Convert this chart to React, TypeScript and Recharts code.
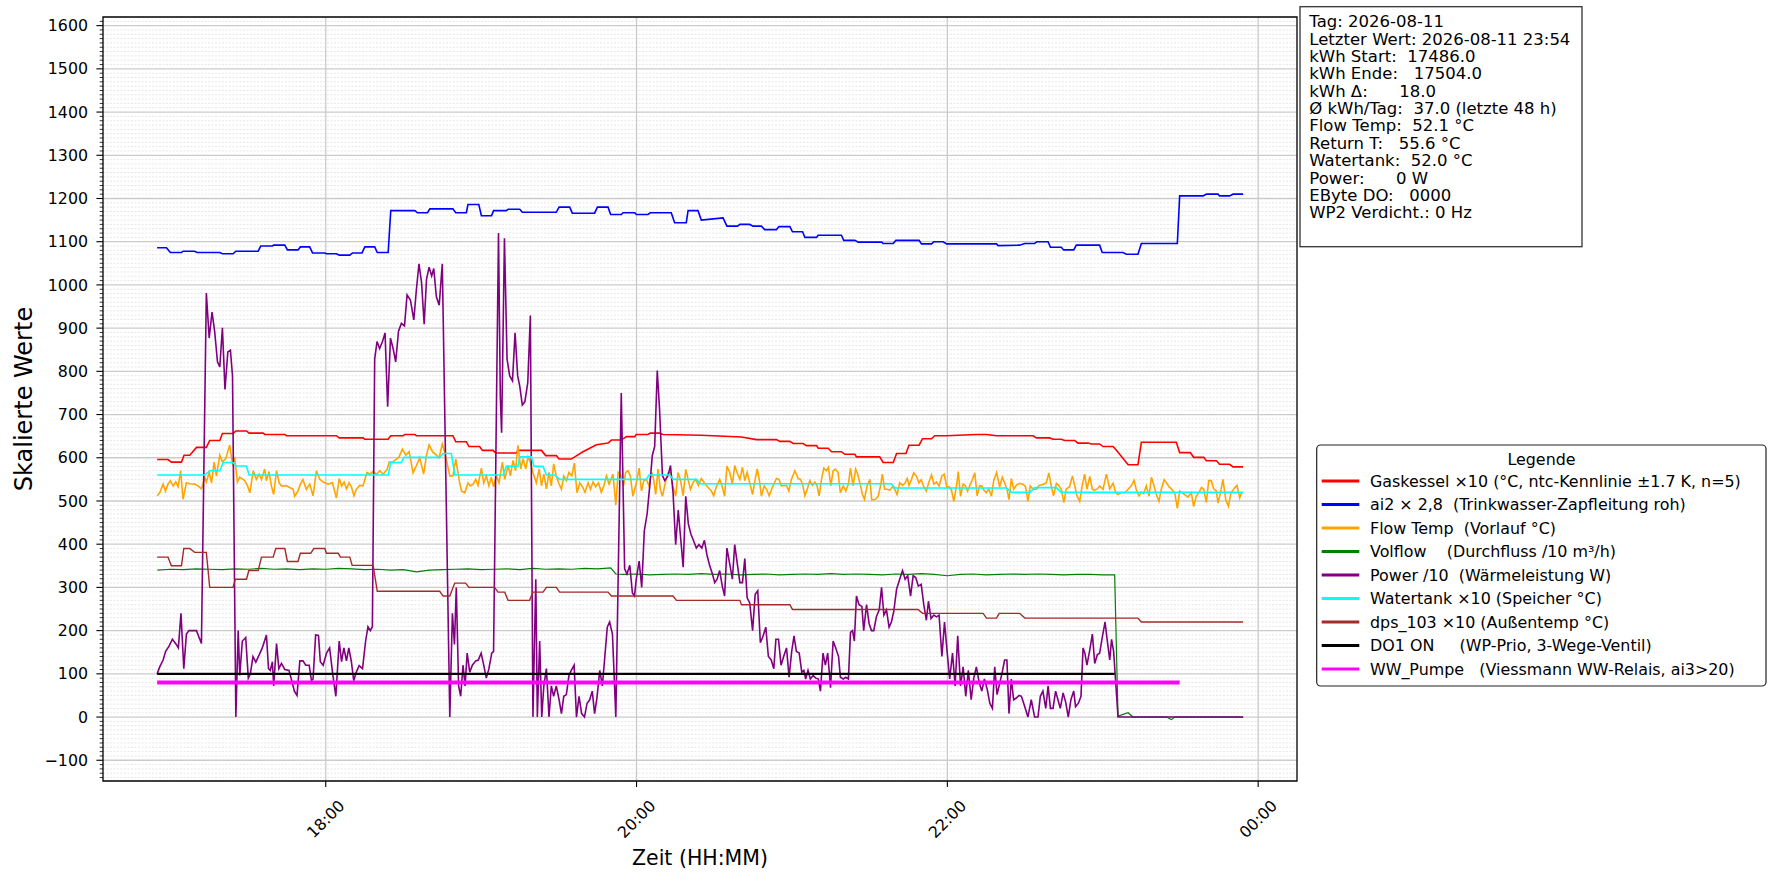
import React from "react";
import { LineChart, Line, XAxis, YAxis, CartesianGrid, ReferenceArea } from "recharts";

// [minutes since 00:00 on 2026-08-11, scaled value]
type Pt = [number, number];

const FONT = "DejaVu Sans, Verdana, sans-serif";

const xDomain: [number, number] = [994, 1455];
const yDomain: [number, number] = [-148, 1620];
const xTicks = [1080, 1200, 1320, 1440];
const xTickLabels = ["18:00", "20:00", "22:00", "00:00"];
const yTicks = [-100, 0, 100, 200, 300, 400, 500, 600, 700, 800, 900, 1000, 1100, 1200, 1300, 1400, 1500, 1600];

const yAll: number[] = [];
for (let v = -140; v <= 1610; v += 10) yAll.push(v);
const yMinor = yAll.filter((v) => v % 100 !== 0);

const gaskessel: Pt[] = [
  [1014.9, 596], [1019.1, 596], [1020.4, 590], [1024.3, 590], [1025.3, 606], [1027.5, 606], [1030.1, 624],
  [1033.9, 624], [1035.2, 640], [1039.1, 640], [1040.1, 656], [1044.2, 656], [1045.3, 662], [1049.4, 662],
  [1050.4, 657], [1055.8, 657], [1056.5, 654], [1064.2, 654], [1064.8, 651], [1084.1, 651], [1085.2, 646],
  [1094.4, 646], [1095.1, 643], [1104.1, 643], [1105.1, 651], [1109.9, 651], [1110.5, 654], [1114.4, 654],
  [1115.0, 651], [1129.1, 651], [1130.2, 637], [1134.3, 637], [1135.3, 626], [1139.4, 626], [1140.5, 617],
  [1144.6, 617], [1145.6, 611], [1153.6, 611], [1154.2, 617], [1163.3, 617], [1164.9, 605], [1169.0, 605],
  [1170.1, 597], [1174.8, 597], [1179.3, 614], [1184.5, 630], [1189.0, 634], [1190.3, 641], [1194.1, 641],
  [1196.1, 649], [1199.3, 649], [1199.9, 654], [1204.4, 654], [1205.3, 657], [1208.9, 657], [1210.2, 654],
  [1225.0, 652], [1240.5, 648], [1246.3, 642], [1254.0, 642], [1255.3, 638], [1259.2, 638], [1260.5, 633],
  [1264.3, 633], [1265.6, 628], [1269.5, 628], [1270.1, 622], [1274.0, 622], [1275.3, 614], [1279.1, 614],
  [1280.4, 608], [1284.3, 608], [1284.9, 602], [1293.9, 602], [1295.2, 589], [1299.1, 589], [1300.4, 610],
  [1304.0, 610], [1305.2, 629], [1309.1, 629], [1310.4, 644], [1313.9, 644], [1315.1, 651], [1319.7, 651],
  [1331.2, 654], [1335.1, 654], [1339.0, 651], [1353.1, 651], [1354.4, 646], [1359.5, 646], [1360.8, 643],
  [1364.0, 643], [1365.3, 640], [1369.2, 640], [1370.4, 634], [1374.3, 634], [1375.6, 632], [1378.8, 632],
  [1380.1, 626], [1384.0, 626], [1385.2, 618], [1389.8, 584], [1393.6, 584], [1394.9, 636], [1408.4, 636],
  [1409.7, 612], [1413.8, 612], [1415.1, 601], [1419.0, 601], [1420.0, 593], [1423.9, 593], [1425.1, 585],
  [1429.0, 585], [1430.3, 579], [1434.2, 579],
];

const ai2: Pt[] = [
  [1014.9, 1086], [1018.5, 1086], [1020.0, 1075], [1024.3, 1075], [1024.9, 1078], [1029.4, 1078], [1030.3, 1075],
  [1039.1, 1075], [1040.1, 1072], [1044.2, 1072], [1045.3, 1078], [1053.9, 1078], [1054.9, 1090], [1059.4, 1090],
  [1059.9, 1092], [1064.2, 1092], [1065.2, 1081], [1069.3, 1081], [1070.2, 1088], [1073.8, 1088], [1074.9, 1074],
  [1079.6, 1074], [1080.3, 1072], [1084.1, 1072], [1085.2, 1069], [1089.3, 1069], [1090.3, 1074], [1094.0, 1074],
  [1095.1, 1088], [1098.9, 1088], [1099.9, 1075], [1104.1, 1075], [1105.1, 1172], [1114.4, 1172], [1115.4, 1167],
  [1119.3, 1167], [1120.2, 1176], [1129.1, 1176], [1130.2, 1167], [1134.3, 1167], [1134.9, 1186], [1139.1, 1186],
  [1140.1, 1160], [1144.0, 1160], [1144.8, 1172], [1149.7, 1172], [1150.4, 1175], [1154.9, 1175], [1155.9, 1168],
  [1169.0, 1168], [1170.1, 1180], [1174.2, 1180], [1175.2, 1166], [1183.8, 1166], [1184.9, 1180], [1189.0, 1180],
  [1190.0, 1163], [1194.1, 1163], [1194.8, 1167], [1199.3, 1167], [1199.9, 1163], [1204.4, 1163], [1205.3, 1167],
  [1213.4, 1167], [1214.7, 1144], [1219.2, 1144], [1219.9, 1172], [1223.7, 1172], [1225.0, 1150], [1233.4, 1155],
  [1234.9, 1136], [1239.0, 1136], [1239.9, 1140], [1243.7, 1140], [1245.0, 1136], [1248.2, 1136], [1249.5, 1128],
  [1254.0, 1128], [1255.0, 1135], [1259.2, 1135], [1260.2, 1123], [1264.1, 1123], [1265.0, 1110], [1269.5, 1110],
  [1270.1, 1115], [1279.1, 1115], [1280.0, 1103], [1284.3, 1103], [1285.6, 1099], [1294.6, 1099], [1295.2, 1096],
  [1299.1, 1096], [1300.1, 1103], [1309.1, 1103], [1310.0, 1095], [1313.9, 1095], [1314.8, 1100], [1318.4, 1100],
  [1319.7, 1095], [1339.0, 1095], [1339.6, 1091], [1347.9, 1092], [1349.9, 1096], [1353.7, 1096], [1354.6, 1100],
  [1358.9, 1100], [1359.8, 1087], [1364.0, 1087], [1364.9, 1081], [1368.8, 1081], [1369.8, 1092], [1378.8, 1092],
  [1379.8, 1075], [1387.8, 1075], [1389.1, 1071], [1393.6, 1071], [1394.9, 1096], [1408.8, 1096], [1409.7, 1206],
  [1418.7, 1206], [1420.0, 1210], [1424.5, 1210], [1425.1, 1206], [1429.0, 1206], [1430.3, 1210], [1434.2, 1210],
];

const flowTemp: Pt[] = [
  [1014.9, 512], [1015.9, 519], [1017.2, 539], [1018.1, 523], [1019.1, 539], [1020.0, 547], [1021.1, 535],
  [1022.1, 544], [1023.0, 533], [1024.0, 570], [1024.9, 504], [1026.2, 542], [1027.5, 540], [1029.4, 539],
  [1030.7, 535], [1032.0, 528], [1033.3, 555], [1033.9, 544], [1035.0, 566], [1035.9, 542], [1036.9, 590],
  [1037.8, 558], [1039.1, 606], [1040.1, 590], [1041.4, 598], [1042.9, 629], [1044.0, 586], [1044.9, 598],
  [1045.9, 544], [1046.8, 555], [1048.7, 547], [1049.8, 535], [1050.7, 519], [1052.0, 570], [1053.2, 550],
  [1054.3, 562], [1055.2, 550], [1056.4, 574], [1057.1, 547], [1058.1, 568], [1059.0, 535], [1059.9, 515],
  [1061.0, 570], [1062.0, 542], [1062.9, 535], [1064.8, 535], [1066.1, 531], [1067.4, 527], [1068.0, 511],
  [1069.3, 523], [1070.2, 539], [1071.2, 550], [1072.5, 527], [1073.8, 539], [1075.1, 512], [1076.4, 570],
  [1077.7, 550], [1079.0, 544], [1080.9, 539], [1082.6, 542], [1084.1, 507], [1085.2, 552], [1086.1, 535],
  [1087.1, 544], [1088.0, 528], [1089.0, 542], [1089.9, 533], [1090.9, 512], [1091.8, 527], [1093.1, 536],
  [1094.4, 535], [1095.9, 566], [1097.0, 562], [1098.3, 568], [1099.6, 562], [1100.9, 570], [1102.1, 562],
  [1103.7, 573], [1104.5, 590], [1105.7, 590], [1107.3, 597], [1108.3, 602], [1109.6, 620], [1110.9, 606],
  [1112.2, 614], [1113.7, 565], [1115.0, 582], [1116.3, 600], [1117.8, 562], [1118.9, 606], [1119.9, 630],
  [1121.2, 614], [1122.7, 606], [1123.8, 600], [1125.0, 632], [1125.9, 614], [1127.9, 558], [1129.1, 558],
  [1130.2, 597], [1131.7, 542], [1132.4, 523], [1133.7, 519], [1134.9, 542], [1135.8, 535], [1136.9, 539],
  [1137.9, 550], [1138.8, 536], [1140.1, 576], [1141.0, 542], [1142.0, 558], [1143.0, 535], [1143.9, 555],
  [1144.8, 533], [1145.9, 558], [1146.9, 542], [1148.2, 590], [1149.1, 550], [1150.4, 582], [1151.3, 558],
  [1152.3, 594], [1153.3, 570], [1154.2, 629], [1155.3, 574], [1156.2, 598], [1157.2, 574], [1158.1, 602],
  [1159.0, 590], [1160.0, 566], [1161.3, 542], [1162.4, 574], [1163.3, 535], [1164.2, 562], [1165.2, 528],
  [1166.2, 566], [1167.1, 535], [1168.0, 586], [1169.0, 558], [1169.9, 542], [1171.0, 527], [1171.9, 558],
  [1172.9, 547], [1173.9, 566], [1175.0, 558], [1176.0, 588], [1177.0, 519], [1178.1, 542], [1179.1, 533],
  [1180.1, 520], [1181.3, 542], [1182.2, 527], [1183.2, 544], [1184.2, 533], [1185.3, 542], [1186.4, 520],
  [1187.4, 536], [1188.4, 558], [1189.4, 539], [1190.9, 562], [1192.0, 491], [1192.9, 566], [1194.1, 558],
  [1195.0, 536], [1195.8, 566], [1196.7, 570], [1197.6, 558], [1198.6, 511], [1199.9, 542], [1201.0, 576],
  [1201.9, 523], [1202.8, 547], [1203.8, 550], [1204.8, 535], [1205.9, 566], [1206.6, 550], [1207.4, 515],
  [1208.3, 574], [1209.2, 527], [1210.0, 511], [1211.0, 539], [1212.2, 566], [1213.1, 566], [1214.1, 533],
  [1215.1, 511], [1216.0, 566], [1216.9, 550], [1218.0, 512], [1219.0, 573], [1219.9, 550], [1220.8, 527],
  [1221.8, 542], [1222.8, 550], [1223.9, 536], [1225.0, 552], [1226.3, 541], [1227.6, 531], [1228.9, 523],
  [1229.8, 512], [1230.8, 533], [1232.1, 550], [1233.1, 533], [1234.0, 511], [1234.9, 581], [1236.0, 566],
  [1237.0, 539], [1237.9, 582], [1238.8, 566], [1239.9, 550], [1240.9, 578], [1241.8, 547], [1242.7, 566],
  [1243.7, 542], [1244.8, 515], [1245.7, 547], [1246.6, 574], [1247.6, 542], [1248.2, 511], [1249.3, 535],
  [1250.2, 527], [1251.2, 512], [1252.1, 527], [1253.0, 539], [1254.0, 552], [1255.0, 550], [1255.9, 535],
  [1257.0, 536], [1257.9, 536], [1258.8, 523], [1259.8, 550], [1261.1, 570], [1262.4, 552], [1263.3, 550],
  [1264.1, 539], [1265.0, 512], [1265.9, 527], [1266.9, 547], [1267.9, 536], [1268.8, 544], [1269.7, 535],
  [1270.5, 512], [1271.4, 550], [1272.3, 576], [1273.3, 570], [1274.1, 578], [1275.0, 535], [1275.9, 570],
  [1276.8, 574], [1277.8, 566], [1278.7, 519], [1279.8, 535], [1280.8, 523], [1281.8, 539], [1282.6, 576],
  [1283.6, 535], [1284.6, 574], [1285.4, 562], [1286.5, 535], [1287.2, 515], [1288.0, 504], [1289.0, 535],
  [1290.1, 550], [1290.8, 503], [1292.0, 503], [1293.3, 511], [1294.2, 535], [1294.9, 562], [1295.8, 527],
  [1296.7, 527], [1297.8, 525], [1298.8, 533], [1299.7, 527], [1300.6, 515], [1301.6, 542], [1302.7, 536],
  [1303.6, 541], [1304.5, 552], [1305.2, 536], [1306.1, 549], [1307.0, 565], [1308.1, 557], [1309.0, 542],
  [1309.9, 549], [1310.9, 533], [1311.9, 523], [1312.8, 542], [1313.9, 560], [1314.8, 539], [1315.8, 544],
  [1316.8, 535], [1317.9, 558], [1318.8, 562], [1319.8, 531], [1320.7, 533], [1321.6, 525], [1322.5, 499],
  [1323.5, 533], [1324.2, 568], [1325.1, 511], [1326.1, 539], [1326.9, 536], [1327.8, 523], [1328.7, 536],
  [1329.7, 550], [1330.6, 565], [1331.5, 512], [1332.5, 535], [1333.3, 535], [1334.1, 525], [1335.1, 519],
  [1336.0, 528], [1337.0, 511], [1337.9, 547], [1339.0, 566], [1340.2, 533], [1341.2, 555], [1342.1, 542],
  [1343.0, 528], [1343.8, 503], [1344.7, 552], [1345.6, 527], [1346.6, 536], [1347.9, 541], [1349.2, 539],
  [1350.2, 533], [1351.1, 499], [1352.0, 535], [1353.1, 527], [1354.4, 527], [1355.4, 536], [1356.9, 538],
  [1358.2, 542], [1359.2, 565], [1360.1, 535], [1361.0, 512], [1362.1, 541], [1363.1, 535], [1364.0, 527],
  [1365.0, 496], [1365.9, 528], [1367.2, 533], [1368.3, 558], [1369.2, 535], [1370.1, 511], [1371.1, 499],
  [1372.0, 533], [1373.0, 562], [1373.9, 527], [1375.0, 557], [1376.0, 527], [1376.9, 525], [1377.9, 528],
  [1378.8, 535], [1380.1, 527], [1381.4, 562], [1382.7, 528], [1384.0, 541], [1385.0, 519], [1385.9, 515],
  [1387.2, 519], [1388.5, 519], [1389.8, 527], [1391.0, 535], [1392.1, 548], [1393.0, 525], [1394.0, 512],
  [1394.9, 520], [1395.8, 517], [1396.8, 535], [1397.9, 511], [1398.8, 555], [1399.8, 535], [1400.7, 515],
  [1401.7, 499], [1402.6, 527], [1403.7, 549], [1404.6, 542], [1405.6, 533], [1406.5, 528], [1407.8, 519],
  [1408.8, 483], [1409.7, 523], [1410.7, 519], [1411.6, 515], [1412.9, 509], [1414.2, 519], [1415.1, 487],
  [1416.1, 511], [1417.2, 520], [1418.1, 531], [1419.0, 527], [1420.0, 496], [1420.9, 547], [1421.9, 547],
  [1422.8, 528], [1423.9, 523], [1424.5, 495], [1425.4, 517], [1426.4, 550], [1427.5, 503], [1428.5, 488],
  [1429.5, 519], [1431.0, 531], [1431.8, 536], [1432.9, 507], [1433.6, 519],
];

const volflow: Pt[] = [
  [1015, 340], [1020, 342], [1025, 341], [1030, 343], [1035, 342], [1040, 341], [1045, 343], [1050, 342],
  [1055, 344], [1060, 342], [1065, 343], [1070, 341], [1075, 343], [1080, 342], [1085, 344], [1090, 343],
  [1095, 341], [1100, 342], [1105, 340], [1110, 341], [1115, 336], [1120, 340], [1125, 341], [1130, 342],
  [1135, 343], [1140, 341], [1145, 342], [1150, 343], [1155, 341], [1160, 344], [1165, 342], [1170, 343],
  [1175, 342], [1180, 344], [1185, 343], [1190, 345], [1192, 331], [1195, 330], [1200, 331], [1205, 329],
  [1210, 330], [1215, 331], [1220, 330], [1225, 332], [1230, 330], [1235, 331], [1240, 329], [1245, 330],
  [1250, 331], [1255, 329], [1260, 330], [1265, 331], [1270, 330], [1275, 332], [1280, 330], [1285, 331],
  [1290, 330], [1295, 329], [1300, 331], [1305, 330], [1310, 332], [1315, 330], [1320, 327], [1325, 330],
  [1330, 331], [1335, 329], [1340, 330], [1345, 331], [1350, 330], [1355, 331], [1360, 330], [1365, 329],
  [1370, 330], [1375, 330], [1380, 329], [1384.6, 329], [1385.9, 2], [1389.8, 10], [1391.7, 0], [1404.6, 0],
  [1406.5, -6], [1407.8, 0], [1434.2, 0],
];

const power: Pt[] = [
  [1014.9, 100], [1015.9, 116], [1017.2, 132], [1018.2, 152], [1019.5, 164], [1020.8, 180], [1022.3, 168],
  [1023.1, 160], [1024.1, 240], [1025.2, 112], [1026.2, 192], [1027.2, 200], [1030.1, 200], [1031.1, 184],
  [1032.0, 170], [1033.9, 981], [1035.0, 877], [1036.1, 937], [1037.1, 893], [1038.2, 822], [1039.1, 810],
  [1040.1, 901], [1041.1, 758], [1042.2, 845], [1043.2, 849], [1044.0, 790], [1045.3, 0], [1046.2, 200],
  [1046.8, 96], [1047.8, 176], [1049.1, 184], [1050.1, 90], [1050.9, 100], [1051.9, 140], [1053.0, 127],
  [1054.3, 144], [1055.5, 160], [1057.1, 190], [1057.9, 112], [1058.6, 108], [1059.4, 128], [1059.9, 72],
  [1061.0, 170], [1061.9, 112], [1062.9, 124], [1064.2, 110], [1065.8, 108], [1066.7, 88], [1067.9, 60],
  [1068.9, 50], [1070.0, 130], [1071.2, 130], [1072.3, 120], [1073.6, 120], [1074.5, 84], [1075.1, 88],
  [1076.1, 190], [1077.2, 189], [1077.9, 128], [1079.0, 120], [1080.3, 148], [1081.5, 160], [1082.6, 104],
  [1083.9, 48], [1085.2, 176], [1086.1, 128], [1087.0, 160], [1088.0, 130], [1088.9, 160], [1089.9, 128],
  [1090.8, 84], [1091.8, 104], [1092.9, 119], [1094.2, 112], [1095.4, 176], [1096.3, 209], [1097.2, 200],
  [1098.0, 209], [1098.9, 829], [1099.8, 869], [1100.8, 853], [1101.9, 869], [1102.9, 889], [1103.9, 718],
  [1105.0, 877], [1106.0, 853], [1107.0, 822], [1108.1, 893], [1109.2, 911], [1110.4, 905], [1111.4, 977],
  [1112.7, 965], [1114.0, 919], [1115.0, 989], [1116.0, 1049], [1117.0, 1005], [1118.0, 909], [1118.9, 1013],
  [1119.9, 1041], [1120.9, 1021], [1121.7, 1038], [1122.7, 973], [1123.8, 953], [1125.0, 1049], [1127.9, 0],
  [1128.9, 240], [1129.7, 168], [1130.4, 300], [1131.3, 72], [1132.1, 48], [1133.0, 120], [1133.8, 72],
  [1134.6, 148], [1135.6, 104], [1136.6, 120], [1137.9, 130], [1138.9, 132], [1140.0, 148], [1141.0, 120],
  [1142.0, 90], [1143.0, 112], [1144.1, 148], [1144.8, 152], [1146.7, 1120], [1147.4, 742], [1147.9, 658],
  [1149.0, 1108], [1150.0, 829], [1151.0, 790], [1152.1, 778], [1153.1, 889], [1154.1, 790], [1154.9, 766],
  [1155.9, 722], [1156.9, 730], [1158.0, 774], [1159.0, 929], [1160.0, 0], [1161.1, 319], [1161.7, 0],
  [1162.6, 176], [1163.4, 0], [1164.2, 72], [1165.2, 112], [1166.2, 0], [1167.1, 72], [1168.0, 48],
  [1169.0, 72], [1170.1, 40], [1171.0, 8], [1171.9, 48], [1172.9, 52], [1173.9, 96], [1174.8, 108],
  [1175.9, 120], [1176.8, 0], [1177.8, 48], [1178.8, 8], [1179.9, 0], [1180.9, 32], [1181.9, 40],
  [1182.9, 60], [1183.8, 8], [1184.7, 44], [1185.8, 108], [1186.8, 72], [1187.7, 136], [1188.7, 208],
  [1189.6, 220], [1190.7, 192], [1192.0, 0], [1194.1, 750], [1195.4, 343], [1196.3, 331], [1197.4, 351],
  [1198.4, 287], [1199.2, 280], [1199.9, 319], [1201.0, 361], [1202.0, 300], [1203.0, 431], [1204.1, 471],
  [1205.1, 535], [1206.1, 606], [1207.0, 626], [1208.0, 802], [1208.9, 710], [1210.0, 559], [1210.9, 547],
  [1212.2, 559], [1213.1, 582], [1214.1, 519], [1215.1, 399], [1216.1, 479], [1216.9, 423], [1218.0, 347],
  [1219.0, 511], [1220.0, 447], [1221.0, 423], [1222.1, 407], [1223.1, 391], [1224.1, 399], [1225.2, 391],
  [1226.2, 409], [1227.2, 375], [1228.2, 351], [1229.3, 331], [1230.2, 311], [1231.1, 319], [1232.1, 339],
  [1233.1, 303], [1234.0, 280], [1234.9, 391], [1237.0, 319], [1237.9, 399], [1239.9, 311], [1240.9, 311],
  [1241.8, 367], [1242.7, 276], [1243.7, 264], [1244.8, 200], [1245.8, 284], [1246.8, 292], [1247.8, 172],
  [1248.9, 188], [1249.9, 208], [1250.9, 140], [1252.0, 132], [1253.0, 112], [1253.8, 180], [1254.8, 180],
  [1255.8, 120], [1256.8, 140], [1257.9, 160], [1258.9, 92], [1259.9, 152], [1260.8, 188], [1261.7, 152],
  [1262.8, 148], [1263.8, 104], [1264.6, 108], [1265.3, 88], [1266.2, 108], [1267.1, 88], [1268.2, 96],
  [1269.2, 90], [1270.2, 88], [1271.0, 60], [1272.0, 148], [1272.9, 120], [1273.8, 148], [1274.9, 68],
  [1275.9, 176], [1276.9, 160], [1278.0, 140], [1278.7, 92], [1279.8, 88], [1280.8, 92], [1281.8, 88],
  [1282.6, 196], [1283.4, 200], [1284.1, 176], [1284.9, 280], [1285.9, 260], [1287.0, 256], [1287.7, 200],
  [1288.8, 260], [1289.8, 216], [1290.7, 200], [1291.6, 200], [1292.6, 232], [1293.7, 248], [1294.6, 300],
  [1295.5, 236], [1296.5, 248], [1297.5, 208], [1298.4, 220], [1299.3, 244], [1300.4, 296], [1301.6, 319],
  [1302.7, 339], [1303.7, 319], [1304.7, 327], [1305.8, 280], [1306.8, 327], [1307.8, 323], [1308.8, 303],
  [1309.9, 307], [1310.9, 260], [1311.9, 224], [1312.7, 268], [1313.7, 228], [1314.8, 236], [1315.8, 232],
  [1316.8, 236], [1317.9, 140], [1318.9, 220], [1319.9, 152], [1320.9, 88], [1322.0, 148], [1323.0, 72],
  [1324.0, 188], [1325.1, 72], [1326.1, 116], [1327.1, 48], [1328.1, 108], [1329.2, 40], [1330.2, 90],
  [1331.2, 116], [1332.3, 80], [1333.3, 60], [1334.3, 88], [1335.4, 64], [1336.4, 32], [1337.4, 20],
  [1338.3, 116], [1339.2, 52], [1341.2, 104], [1342.1, 132], [1343.0, 132], [1343.8, 8], [1344.7, 88],
  [1345.6, 40], [1346.6, 44], [1347.7, 50], [1348.6, 48], [1349.9, 24], [1351.1, 0], [1352.4, 40],
  [1353.7, 0], [1355.0, 0], [1355.9, 48], [1356.9, 60], [1358.0, 20], [1358.9, 72], [1359.8, 20],
  [1360.8, 20], [1361.8, 60], [1362.7, 40], [1363.6, 20], [1364.7, 56], [1365.7, 34], [1366.7, 0],
  [1367.7, 40], [1368.8, 60], [1369.5, 24], [1370.6, 32], [1371.6, 48], [1372.4, 160], [1373.1, 148],
  [1373.9, 120], [1374.9, 152], [1376.0, 192], [1376.9, 124], [1377.9, 144], [1378.8, 148], [1379.8, 184],
  [1380.9, 220], [1381.6, 184], [1382.7, 132], [1383.4, 180], [1384.2, 152], [1385.9, 0], [1434.2, 0],
];

const watertank: Pt[] = [
  [1014.9, 560], [1033.3, 560], [1035.2, 570], [1039.1, 570], [1040.4, 589], [1044.2, 589], [1045.3, 581],
  [1049.4, 581], [1050.4, 560], [1104.1, 560], [1105.1, 589], [1109.2, 589], [1110.2, 601], [1124.0, 601],
  [1125.3, 610], [1128.5, 610], [1129.8, 560], [1148.5, 560], [1149.7, 580], [1154.2, 580], [1154.9, 602],
  [1159.4, 602], [1160.4, 580], [1163.9, 580], [1165.2, 560], [1168.4, 560], [1170.3, 550], [1203.8, 550],
  [1204.8, 560], [1212.8, 560], [1214.1, 550], [1223.1, 550], [1224.6, 540], [1298.4, 540], [1299.7, 530],
  [1342.8, 530], [1344.8, 520], [1351.8, 520], [1353.7, 531], [1362.1, 531], [1364.0, 520], [1434.2, 520],
];

const dps103: Pt[] = [
  [1014.9, 370], [1019.1, 370], [1020.4, 350], [1024.3, 350], [1025.2, 390], [1027.5, 390], [1029.4, 381],
  [1033.9, 381], [1035.2, 300], [1044.2, 300], [1045.1, 319], [1049.4, 319], [1050.3, 339], [1053.9, 339],
  [1055.2, 370], [1059.7, 370], [1060.7, 390], [1064.2, 390], [1065.2, 360], [1069.3, 360], [1070.2, 379],
  [1074.2, 379], [1075.4, 390], [1079.6, 390], [1080.3, 379], [1084.8, 379], [1085.7, 370], [1089.3, 370],
  [1090.2, 351], [1098.3, 351], [1099.9, 291], [1124.0, 291], [1125.3, 280], [1127.9, 280], [1129.8, 310],
  [1134.0, 310], [1135.3, 300], [1145.2, 300], [1146.5, 289], [1149.1, 289], [1150.4, 270], [1158.7, 270],
  [1160.0, 289], [1163.9, 289], [1165.2, 300], [1169.0, 300], [1170.3, 289], [1189.0, 289], [1190.3, 280],
  [1214.1, 280], [1215.4, 270], [1239.9, 270], [1240.5, 260], [1259.2, 260], [1260.2, 249], [1308.7, 249],
  [1310.4, 240], [1333.8, 240], [1335.1, 229], [1339.0, 229], [1340.0, 240], [1347.9, 240], [1349.9, 229],
  [1393.6, 229], [1394.9, 220], [1434.2, 220],
];

const do1On: Pt[] = [[1014.9, 100], [1384.6, 100]];
const wwPumpe: Pt[] = [[1014.9, 80], [1409.7, 80]];

const infoLines = [
  "Tag: 2026-08-11",
  "Letzter Wert: 2026-08-11 23:54",
  "kWh Start:  17486.0",
  "kWh Ende:   17504.0",
  "kWh Δ:      18.0",
  "Ø kWh/Tag:  37.0 (letzte 48 h)",
  "Flow Temp:  52.1 °C",
  "Return T:   55.6 °C",
  "Watertank:  52.0 °C",
  "Power:      0 W",
  "EByte DO:   0000",
  "WP2 Verdicht.: 0 Hz",
];

const series = [
  { name: "Gaskessel ×10 (°C, ntc-Kennlinie ±1.7 K, n=5)", color: "#ff0000", width: 1.6, points: gaskessel },
  { name: "ai2 × 2,8  (Trinkwasser-Zapfleitung roh)", color: "#0000ff", width: 1.6, points: ai2 },
  { name: "Flow Temp  (Vorlauf °C)", color: "#ffa500", width: 1.6, points: flowTemp },
  { name: "Volflow    (Durchfluss /10 m³/h)", color: "#008000", width: 1.2, points: volflow },
  { name: "Power /10  (Wärmeleistung W)", color: "#800080", width: 1.6, points: power },
  { name: "Watertank ×10 (Speicher °C)", color: "#00ffff", width: 1.6, points: watertank },
  { name: "dps_103 ×10 (Außentemp °C)", color: "#a52a2a", width: 1.4, points: dps103 },
  { name: "DO1 ON     (WP-Prio, 3-Wege-Ventil)", color: "#000000", width: 2.4, points: do1On },
  { name: "WW_Pumpe   (Viessmann WW-Relais, ai3>20)", color: "#ff00ff", width: 4, points: wwPumpe },
];

const W = 1781;
const H = 884;
const PLOT_LEFT = 103;
const PLOT_BOTTOM = 781;

const fmtY = (v: number) => (v < 0 ? "\u2212" + Math.abs(v) : String(v));

function YTick(props: any) {
  const { y, payload } = props;
  const major = payload.value % 100 === 0;
  return (
    <g>
      <line
        x1={PLOT_LEFT - (major ? 6.6 : 3.3)}
        x2={PLOT_LEFT}
        y1={y}
        y2={y}
        stroke="#000"
        strokeWidth={major ? 1.1 : 0.8}
      />
      {major && (
        <text x={PLOT_LEFT - 15} y={y} dy="0.355em" textAnchor="end" fontFamily={FONT} fontSize={15.8} fill="#000">
          {fmtY(payload.value)}
        </text>
      )}
    </g>
  );
}

function XTick(props: any) {
  const { x, payload } = props;
  const label = xTickLabels[xTicks.indexOf(payload.value)];
  const cy = PLOT_BOTTOM + 38;
  return (
    <text
      x={x}
      y={cy}
      transform={`rotate(-45 ${x} ${cy})`}
      textAnchor="middle"
      dominantBaseline="central"
      fontFamily={FONT}
      fontSize={15.8}
      fill="#000"
    >
      {label}
    </text>
  );
}

export default function App() {
  return (
    <div style={{ position: "absolute", left: 0, top: 0, width: W, height: H, background: "#fff" }}>
      <LineChart width={W} height={H} margin={{ top: 17, right: 484, bottom: 0, left: 0 }}>
        <CartesianGrid horizontalValues={yMinor} vertical={false} stroke="#d6d6d6" strokeDasharray="2 1.5" strokeWidth={0.6} />
        <CartesianGrid horizontalValues={yTicks} verticalValues={xTicks} stroke="#cbcbcb" strokeWidth={1.3} />
        <XAxis
          type="number"
          dataKey="t"
          domain={xDomain}
          ticks={xTicks}
          interval={0}
          allowDataOverflow
          height={103}
          tickSize={6}
          tickMargin={0}
          axisLine={false}
          tickLine={{ stroke: "#000", strokeWidth: 1.1 }}
          tick={XTick}
        />
        <YAxis
          type="number"
          domain={yDomain}
          ticks={yAll}
          interval={0}
          allowDataOverflow
          width={103}
          tickSize={6.6}
          tickMargin={8.5}
          axisLine={false}
          tickLine={false}
          tick={YTick}
        />
        {series.map((s) => (
          <Line
            key={s.name}
            data={s.points.map(([t, v]) => ({ t, v }))}
            dataKey="v"
            type="linear"
            stroke={s.color}
            strokeWidth={s.width}
            dot={false}
            activeDot={false}
            isAnimationActive={false}
          />
        ))}
        <ReferenceArea
          x1={xDomain[0]}
          x2={xDomain[1]}
          y1={yDomain[0]}
          y2={yDomain[1]}
          fill="none"
          stroke="#000"
          strokeWidth={1.3}
          ifOverflow="visible"
        />
      </LineChart>
      <svg width={W} height={H} style={{ position: "absolute", left: 0, top: 0, pointerEvents: "none" }}>
        <text x={31.5} y={399} transform="rotate(-90 31.5 399)" textAnchor="middle" fontFamily={FONT} fontSize={24} fill="#000">
          Skalierte Werte
        </text>
        <text x={700} y={865} textAnchor="middle" fontFamily={FONT} fontSize={20.5} fill="#000">
          Zeit (HH:MM)
        </text>

        <rect x={1300} y={6.7} width={282} height={240} fill="#fff" stroke="#333" strokeWidth={1.3} />
        {infoLines.map((line, i) => (
          <text
            key={i}
            x={1309.3}
            y={27.3 + i * 17.36}
            fontFamily={FONT}
            fontSize={16.5}
            fill="#000"
            xmlSpace="preserve"
            style={{ whiteSpace: "pre" }}
          >
            {line}
          </text>
        ))}

        <rect x={1316.7} y={445} width={449.3} height={241} rx={4} fill="#fff" stroke="#222" strokeWidth={1.2} />
        <text x={1541.5} y={459} textAnchor="middle" dominantBaseline="central" fontFamily={FONT} fontSize={15.9} fill="#000">
          Legende
        </text>
        {series.map((s, i) => {
          const cy = 481 + i * 23.5;
          return (
            <g key={s.name}>
              <line x1={1321.7} x2={1359.3} y1={cy} y2={cy} stroke={s.color} strokeWidth={3} />
              <text
                x={1370}
                y={cy}
                dominantBaseline="central"
                fontFamily={FONT}
                fontSize={15.9}
                fill="#000"
                xmlSpace="preserve"
                style={{ whiteSpace: "pre" }}
              >
                {s.name}
              </text>
            </g>
          );
        })}
      </svg>
    </div>
  );
}
